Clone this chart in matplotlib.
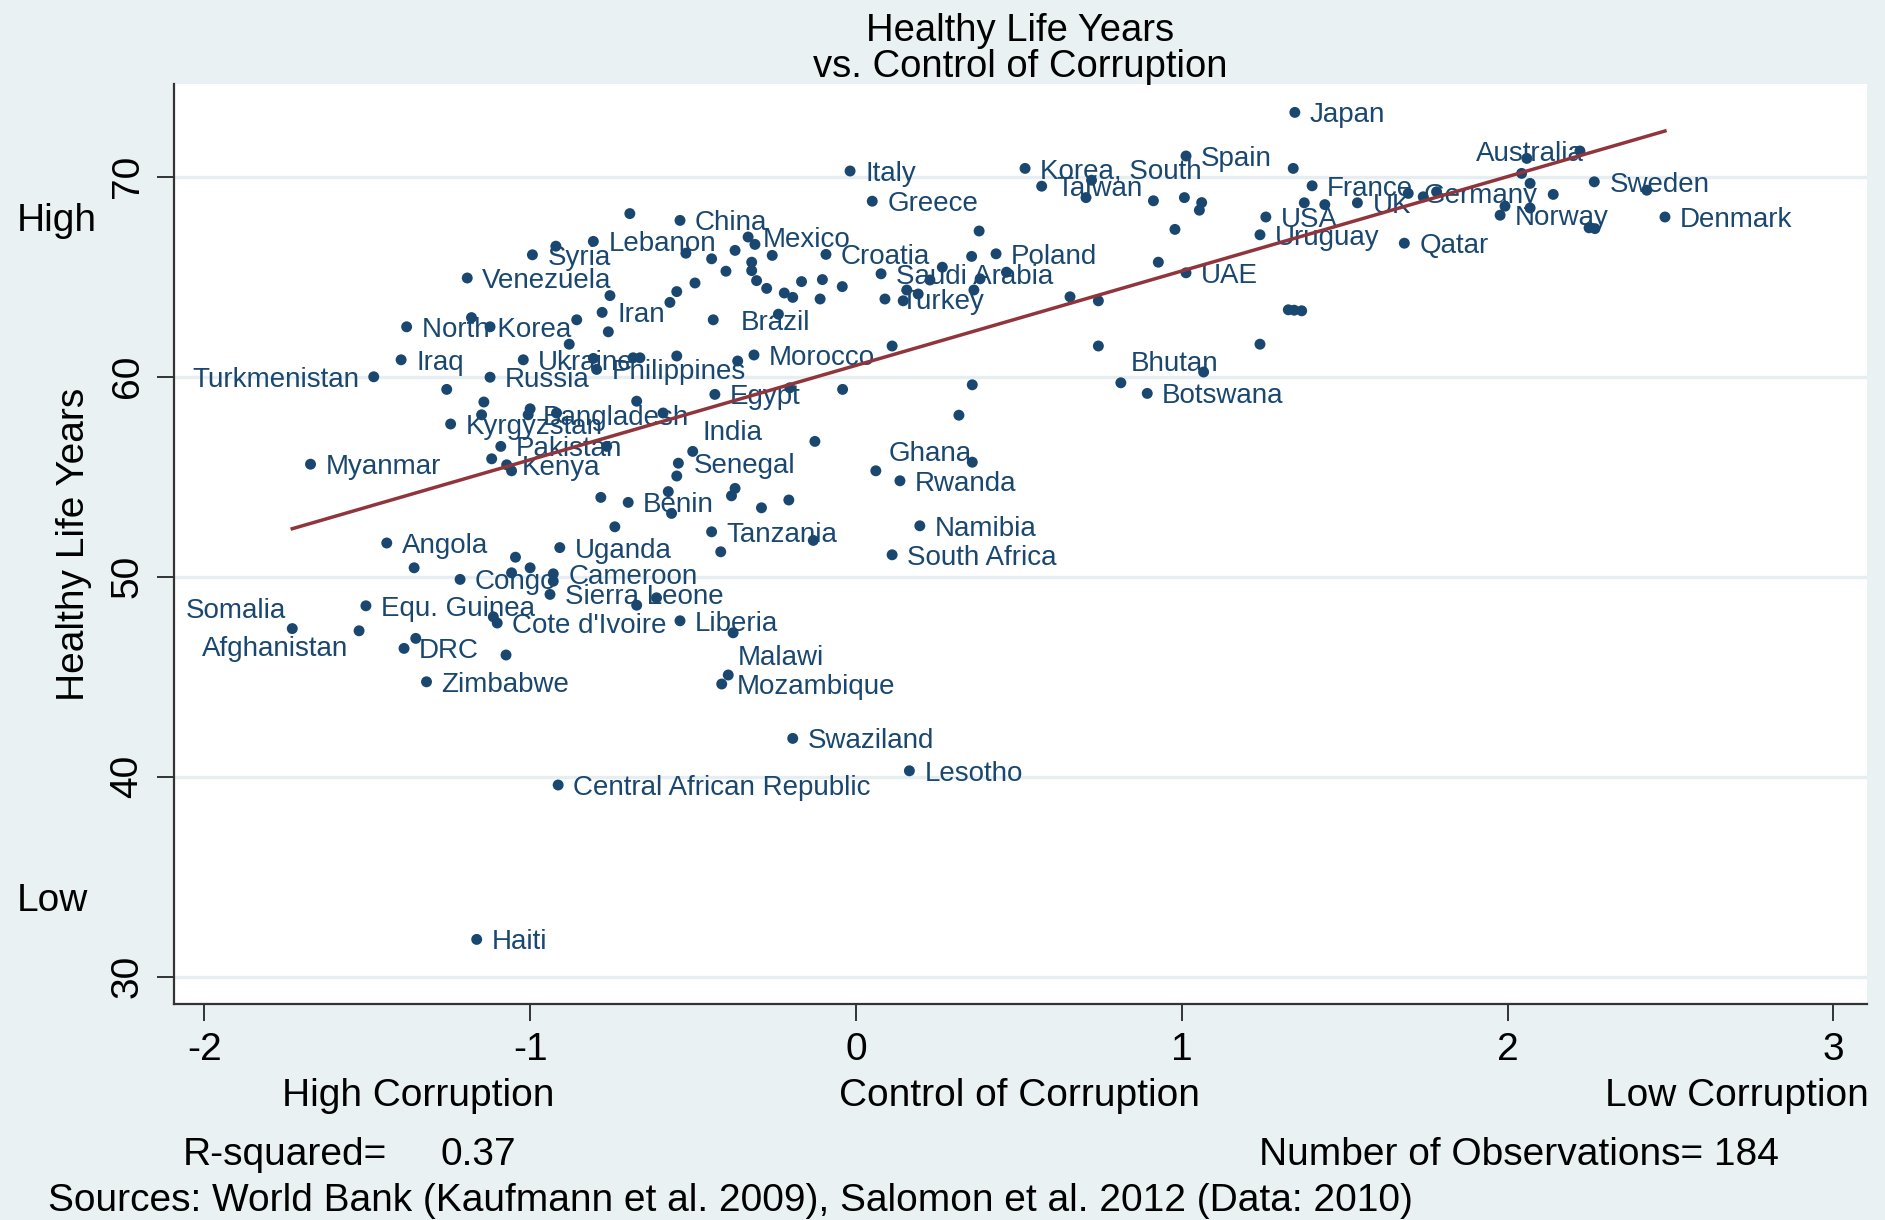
import matplotlib
matplotlib.use('Agg')
import matplotlib.pyplot as plt
import numpy as np

plt.rcParams['font.family'] = ['Liberation Sans', 'DejaVu Sans']
plt.rcParams['axes.unicode_minus'] = False

# labelled countries: control of corruption (x) and healthy life years (y)
countries = ['Turkmenistan', 'Iraq', 'North Korea', 'Venezuela', 'Syria', 'Lebanon', 'Iran',
             'Russia', 'Ukraine', 'Philippines', 'Bangladesh', 'Kyrgyzstan', 'Pakistan', 'Kenya',
             'Myanmar', 'Benin', 'Angola', 'Congo', 'Uganda', 'Cameroon', 'Sierra Leone',
             "Cote d'Ivoire", 'Somalia', 'Afghanistan', 'Equ. Guinea', 'DRC', 'Zimbabwe', 'Liberia',
             'Egypt', 'India', 'Senegal', 'Tanzania', 'Ghana', 'Rwanda', 'Namibia', 'South Africa',
             'Malawi', 'Mozambique', 'Swaziland', 'Lesotho', 'Central African Republic', 'Haiti',
             'Italy', 'Greece', 'Korea, South', 'Taiwan', 'China', 'Mexico', 'Croatia', 'Brazil',
             'Morocco', 'Saudi Arabia', 'Turkey', 'Poland', 'Japan', 'Spain', 'UAE', 'Bhutan',
             'Botswana', 'USA', 'Uruguay', 'France', 'UK', 'Germany', 'Qatar', 'Australia',
             'Sweden', 'Norway', 'Denmark']
cc = [-1.48, -1.396, -1.379, -1.193, -0.993, -0.806, -0.779,
      -1.123, -1.021, -0.796, -1.006, -1.244, -1.09, -1.072,
      -1.674, -0.699, -1.44, -1.215, -0.909, -0.929, -0.939,
      -1.101, -1.73, -1.525, -1.504, -1.387, -1.318, -0.54,
      -0.433, -0.501, -0.545, -0.443, 0.061, 0.135, 0.196, 0.111,
      -0.392, -0.412, -0.194, 0.164, -0.914, -1.164,
      -0.018, 0.05, 0.519, 0.57, -0.54, -0.331, -0.092, -0.438,
      -0.313, 0.077, 0.089, 0.43, 1.347, 1.013, 1.013, 0.813,
      0.894, 1.258, 1.24, 1.4, 1.539, 1.695, 1.683, 2.222,
      2.266, 1.977, 2.483]
hly = [60.0, 60.85, 62.5, 64.94, 66.1, 66.77, 63.22,
       59.98, 60.85, 60.37, 58.1, 57.64, 56.52, 55.6,
       55.63, 53.72, 51.69, 49.87, 51.46, 50.15, 49.12,
       47.69, 47.41, 47.3, 48.55, 46.42, 44.75, 47.8,
       59.12, 56.27, 55.68, 52.25, 55.3, 54.8, 52.55, 51.1,
       45.09, 44.64, 41.92, 40.3, 39.59, 31.87,
       70.29, 68.78, 70.42, 69.53, 67.82, 66.99, 66.12, 62.85,
       61.09, 65.15, 63.89, 66.15, 73.22, 71.04, 65.2, 59.7,
       59.17, 67.99, 67.1, 69.55, 68.7, 69.17, 66.68, 71.29,
       69.75, 68.08, 67.99]

# remaining (unlabelled) countries
other_cc = [-1.256, -1.18, -1.123, -0.921, -0.694, -0.755, -0.857, -0.760, -0.880, -0.806,
            -0.684, -0.663, -0.55, -0.571, -0.55, -1.142, -1.149, -1.0, -0.919, -0.673,
            -0.592, -1.118, -1.057, -0.765, -0.783, -0.74, -0.55, -0.576, -0.566, -1.356,
            -1.045, -1.0, -1.057, -0.929, -1.351, -1.074, -1.113, -0.673, -0.612, -0.377,
            -0.203, -0.041, 0.357, 0.316, -0.126, -0.371, -0.382, -0.29, -0.206, -0.415,
            -0.131, 0.357, 0.706, -0.31, -0.522, -0.443, -0.371, -0.257, -0.32, -0.32,
            -0.399, -0.494, -0.305, -0.274, -0.22, -0.194, -0.167, -0.103, -0.11, -0.042,
            -0.238, -0.363, 0.111, 0.265, 0.227, 0.156, 0.191, 0.145, 0.378, 0.355,
            0.381, 0.362, 0.462, 0.657, 0.744, 0.744, 1.342, 0.723, 0.913, 1.008,
            1.061, 1.054, 0.979, 0.928, 1.067, 1.24, 1.327, 1.345, 1.368, 1.376,
            1.439, 1.741, 1.782, 2.059, 2.043, 2.069, 2.14, 2.427, 1.992, 2.069,
            2.268, 2.25]
other_hly = [59.37, 62.96, 62.5, 66.53, 68.16, 64.06, 62.85, 62.25, 61.63, 60.92,
             60.95, 60.95, 61.04, 63.72, 64.26, 58.74, 58.1, 58.4, 58.19, 58.78,
             58.19, 55.9, 55.3, 56.52, 53.97, 52.5, 55.04, 54.26, 53.17, 50.45,
             50.98, 50.45, 50.2, 49.78, 46.92, 46.09, 48.0, 48.58, 48.95, 47.2,
             59.45, 59.37, 59.6, 58.08, 56.77, 54.42, 54.05, 53.45, 53.84, 51.25,
             51.82, 55.73, 68.96, 66.62, 66.18, 65.9, 66.32, 66.07, 65.73, 65.31,
             65.28, 64.69, 64.81, 64.42, 64.19, 63.97, 64.76, 64.86, 63.89, 64.51,
             63.13, 60.79, 61.54, 65.48, 64.84, 64.34, 64.14, 63.8, 67.29, 66.02,
             64.9, 64.34, 65.23, 64.0, 63.8, 61.54, 70.42, 69.83, 68.8, 68.96,
             68.71, 68.33, 67.37, 65.73, 60.24, 61.63, 63.35, 63.33, 63.3, 68.7,
             68.61, 69.0, 69.25, 70.92, 70.17, 69.67, 69.12, 69.33, 68.53, 68.44,
             67.41, 67.45]

fit_intercept = 60.57
fit_slope = 4.72
r_squared = 0.37
n_obs = 184

navy = '#1a476f'
maroon = '#90353b'
bg = '#e9f1f3'

# labels not placed at the default spot (right of the dot): dx, dy in pixels, alignment
label_place = {
    'India': (10, 18, 'left'),
    'Ghana': (13, 17, 'left'),
    'Malawi': (10, 17, 'left'),
    'Bhutan': (10, 19, 'left'),
    'Brazil': (28, -3, 'left'),
    'Australia': (4, -3, 'right'),
    'Turkmenistan': (-14, -3, 'right'),
    'Somalia': (-6, 18, 'right'),
    'Afghanistan': (-11, -18, 'right'),
}

W, H = 1885, 1220
fig = plt.figure(figsize=(W / 100, H / 100), dpi=100, facecolor=bg)


def fx(x):
    return x / W


def fy(y):
    return 1 - y / H


ax = fig.add_axes([fx(174), fy(1004), fx(1867) - fx(174), fy(84) - fy(1004)])
ax.set_facecolor('white')

ax.scatter(other_cc, other_hly, s=62, color=navy, edgecolors='none', zorder=3)
ax.scatter(cc, hly, s=62, color=navy, edgecolors='none', zorder=3)

for name, x, y in zip(countries, cc, hly):
    dx, dy, ha = label_place.get(name, (15, -3, 'left'))
    ax.annotate(name, (x, y), xytext=(dx, dy), textcoords='offset pixels',
                ha=ha, va='center', fontsize=20, color=navy, zorder=4)

all_x = np.array(cc + other_cc)
xs = np.array([all_x.min(), all_x.max()])
ax.plot(xs, fit_intercept + fit_slope * xs, color=maroon, lw=2.5, zorder=5)

ax.set_xlim(-2.093, 3.103)
ax.set_ylim(28.64, 74.64)
ax.set_xticks([-2, -1, 0, 1, 2, 3])
ax.set_yticks([30, 40, 50, 60, 70])
ax.yaxis.grid(True, color='#e6eef1', lw=2.4)
ax.set_axisbelow(True)

for side in ['top', 'right']:
    ax.spines[side].set_visible(False)
for side in ['left', 'bottom']:
    ax.spines[side].set_color('#333333')
    ax.spines[side].set_linewidth(1.6)

ax.tick_params(axis='both', direction='out', length=12.5, width=1.4, color='#333333',
               labelsize=28, labelcolor='black')
ax.tick_params(axis='x', pad=8)
ax.tick_params(axis='y', pad=8)
for lab in ax.get_yticklabels():
    lab.set_rotation(90)
    lab.set_va('center')

# titles and notes
big = 28
fig.text(fx(1020), fy(31), 'Healthy Life Years', ha='center', va='center', fontsize=27.5)
fig.text(fx(1020), fy(67), 'vs. Control of Corruption', ha='center', va='center', fontsize=27.5)
fig.text(fx(74), fy(544), 'Healthy Life Years', rotation=90, ha='center', va='center', fontsize=big)
fig.text(fx(17), fy(221), 'High', ha='left', va='center', fontsize=big)
fig.text(fx(17), fy(901), 'Low', ha='left', va='center', fontsize=big)

fig.text(fx(282), fy(1096), 'High Corruption', ha='left', va='center', fontsize=big)
fig.text(fx(1019), fy(1096), 'Control of Corruption', ha='center', va='center', fontsize=big)
fig.text(fx(1869), fy(1096), 'Low Corruption', ha='right', va='center', fontsize=big)

fig.text(fx(183), fy(1155), 'R-squared=', ha='left', va='center', fontsize=big)
fig.text(fx(440), fy(1155), f'{r_squared:.2f}', ha='left', va='center', fontsize=big)
fig.text(fx(1259), fy(1155), f'Number of Observations= {n_obs}', ha='left', va='center', fontsize=big)
fig.text(fx(48), fy(1201), 'Sources: World Bank (Kaufmann et al. 2009), Salomon et al. 2012 (Data: 2010)',
         ha='left', va='center', fontsize=big)

fig.savefig('out.png', dpi=100, facecolor=bg)
